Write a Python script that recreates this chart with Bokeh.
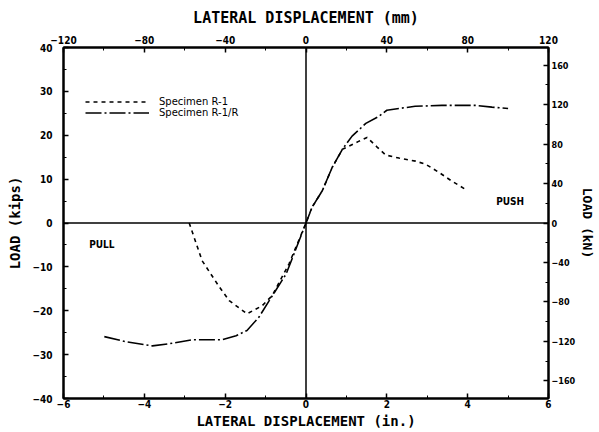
from bokeh.plotting import figure
from bokeh.models import Range1d, LinearAxis, FixedTicker, Span, Legend, LegendItem, Label
from bokeh.embed import file_html
from bokeh.resources import INLINE

# ---------------- data ----------------
r1_x = [-2.89, -2.57, -2.15, -1.9, -1.46, -1.09, -0.84, -0.42, 0.0, 0.15, 0.4, 0.65, 0.9,
        1.06, 1.3, 1.51, 1.76, 1.97, 2.3, 2.71, 2.96, 3.28, 3.6, 3.94]
r1_y = [0.0, -8.6, -14.5, -17.7, -20.7, -18.9, -16.6, -9.3, 0.0, 3.6, 7.3, 12.7, 16.8,
        17.5, 18.6, 19.5, 17.3, 15.5, 14.8, 14.1, 13.4, 11.6, 9.6, 7.7]

r1r_x = [-4.99, -4.44, -3.8, -3.38, -2.81, -2.07, -1.73, -1.46, -1.16, -0.91, -0.49, 0.0,
         0.15, 0.4, 0.65, 0.9, 1.14, 1.48, 1.8, 2.0, 2.3, 2.7, 3.36, 4.2, 4.6, 5.0]
r1r_y = [-25.9, -27.1, -28.0, -27.5, -26.6, -26.6, -25.7, -24.5, -21.4, -17.7, -11.6, 0.0,
         3.6, 7.3, 12.7, 16.8, 19.8, 22.7, 24.3, 25.7, 26.1, 26.6, 26.8, 26.8, 26.4, 26.1]

in_ticks = [-6, -4, -2, 0, 2, 4, 6]
in_minor = [-5, -3, -1, 1, 3, 5]
kip_ticks = [-40, -30, -20, -10, 0, 10, 20, 30, 40]
kip_minor = [-35, -25, -15, -5, 5, 15, 25, 35]
mm_ticks = [-120, -80, -40, 0, 40, 80, 120]
mm_minor = [-100, -60, -20, 20, 60, 100]
kn_ticks = [-160, -120, -80, -40, 0, 40, 80, 120, 160]
kn_minor = [-140, -100, -60, -20, 20, 60, 100, 140]
KIPS_TO_KN = 4.448

series_names = ["Specimen R-1", "Specimen R-1/R"]
pull_pos = (-5.05, -5.0)
push_pos = (5.05, 4.8)

LABEL_FONT = "DejaVu Sans Mono"
TICK_FONT = "DejaVu Sans Condensed"

p = figure(width=599, height=432, x_range=Range1d(-6, 6), y_range=Range1d(-40, 40),
           output_backend="svg", toolbar_location=None,
           min_border_left=63, min_border_right=51, min_border_top=47, min_border_bottom=34)
p.extra_x_ranges = {"mm": Range1d(-120, 120)}
p.extra_y_ranges = {"kN": Range1d(-40 * KIPS_TO_KN, 40 * KIPS_TO_KN)}
p.xgrid.visible = False
p.ygrid.visible = False
p.outline_line_color = "black"
p.outline_line_width = 2
p.background_fill_color = "white"
p.border_fill_color = "white"

bottom = p.below[0]
left = p.left[0]
bottom.ticker = FixedTicker(ticks=in_ticks, minor_ticks=in_minor)
bottom.axis_label = "LATERAL DISPLACEMENT (in.)"
left.ticker = FixedTicker(ticks=kip_ticks, minor_ticks=kip_minor)
left.axis_label = "LOAD (kips)"

top = LinearAxis(x_range_name="mm", axis_label="LATERAL DISPLACEMENT (mm)")
top.ticker = FixedTicker(ticks=mm_ticks, minor_ticks=mm_minor)
p.add_layout(top, "above")
right = LinearAxis(y_range_name="kN", axis_label="LOAD (kN)")
right.ticker = FixedTicker(ticks=kn_ticks, minor_ticks=kn_minor)
p.add_layout(right, "right")

for ax in [bottom, left, top, right]:
    ax.axis_line_color = "black"
    ax.axis_line_width = 2
    ax.major_tick_in = 5
    ax.major_tick_out = 0
    ax.minor_tick_in = 3
    ax.minor_tick_out = 0
    ax.major_tick_line_width = 1.5
    ax.major_tick_line_color = "black"
    ax.minor_tick_line_color = "black"
    ax.major_label_text_font = TICK_FONT
    ax.major_label_text_font_style = "bold"
    ax.major_label_text_font_size = "10px"
    ax.major_label_text_color = "black"
    ax.axis_label_text_font = LABEL_FONT
    ax.axis_label_text_font_style = "bold"
    ax.axis_label_text_font_size = "15px"
    ax.axis_label_text_color = "black"

bottom.major_label_standoff = 1
bottom.axis_label_standoff = 2
bottom.axis_label_text_font_size = "14px"
top.major_label_standoff = 4
top.axis_label_standoff = 6
left.major_label_standoff = 11
left.axis_label_standoff = 6
left.axis_label_text_font_size = "14px"
right.major_label_standoff = 3
right.axis_label_standoff = 2
right.axis_label_text_font_size = "13px"
right.major_label_text_font_size = "9px"

p.add_layout(Span(location=0, dimension="width", line_color="black", line_width=1.5))
p.add_layout(Span(location=0, dimension="height", line_color="black", line_width=1.5))

l1 = p.line(r1_x, r1_y, line_color="black", line_width=1.6, line_dash="4 4")
l2 = p.line(r1r_x, r1r_y, line_color="black", line_width=1.6, line_dash="16 3 2 3")

legend = Legend(items=[LegendItem(label=series_names[0], renderers=[l1]),
                       LegendItem(label=series_names[1], renderers=[l2])],
                location=(22, 280), orientation="vertical",
                border_line_color=None, background_fill_alpha=0,
                glyph_width=64, glyph_height=11, label_height=11,
                label_standoff=10, spacing=0, padding=0, margin=0,
                label_text_font="DejaVu Sans", label_text_font_size="10px",
                label_text_color="black")
p.add_layout(legend, "center")

for txt, pos in [("PULL", pull_pos), ("PUSH", push_pos)]:
    p.add_layout(Label(x=pos[0], y=pos[1], text=txt, text_align="center", text_baseline="middle",
                       text_font=TICK_FONT, text_font_style="bold", text_font_size="10px",
                       text_color="black"))

open("out.html", "w").write(file_html(p, INLINE))
